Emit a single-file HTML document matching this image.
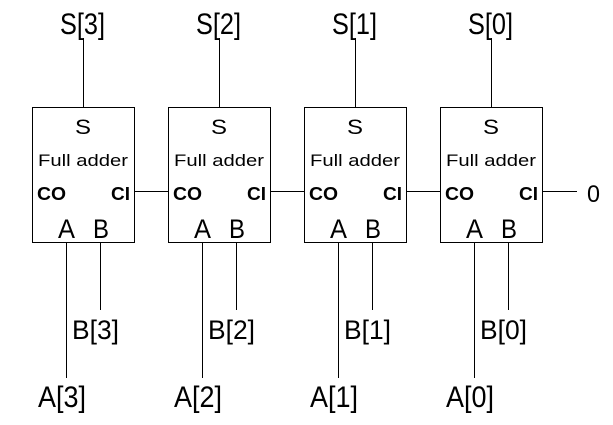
<!DOCTYPE html>
<html><head><meta charset="utf-8"><style>
html,body{margin:0;padding:0;background:#fff;}
svg{display:block;}
text{font-family:"Liberation Sans","Noto Sans CJK JP",sans-serif;fill:#000;}
</style></head><body>
<svg width="613" height="425" viewBox="0 0 613 425" xmlns="http://www.w3.org/2000/svg">
<g stroke="#000" stroke-width="1" fill="none">
<rect x="32.5" y="107.5" width="102" height="135"/>
<rect x="168.5" y="107.5" width="102" height="135"/>
<rect x="304.5" y="107.5" width="102" height="135"/>
<rect x="440.5" y="107.5" width="102" height="135"/>
<line x1="83.5" y1="38" x2="83.5" y2="107"/>
<line x1="219.5" y1="38" x2="219.5" y2="107"/>
<line x1="355.5" y1="38" x2="355.5" y2="107"/>
<line x1="491.5" y1="38" x2="491.5" y2="107"/>
<line x1="134" y1="191.5" x2="168" y2="191.5"/>
<line x1="270" y1="191.5" x2="304" y2="191.5"/>
<line x1="406" y1="191.5" x2="440" y2="191.5"/>
<line x1="542" y1="191.5" x2="577" y2="191.5"/>
<line x1="66.5" y1="242" x2="66.5" y2="378"/>
<line x1="100.5" y1="242" x2="100.5" y2="310"/>
<line x1="202.5" y1="242" x2="202.5" y2="378"/>
<line x1="236.5" y1="242" x2="236.5" y2="310"/>
<line x1="338.5" y1="242" x2="338.5" y2="378"/>
<line x1="372.5" y1="242" x2="372.5" y2="310"/>
<line x1="474.5" y1="242" x2="474.5" y2="378"/>
<line x1="508.5" y1="242" x2="508.5" y2="310"/>
</g>
<g font-size="30" lengthAdjust="spacingAndGlyphs">
<text x="60" y="34" textLength="45" lengthAdjust="spacingAndGlyphs">S[3]</text>
<text x="196" y="34" textLength="45" lengthAdjust="spacingAndGlyphs">S[2]</text>
<text x="332" y="34" textLength="45" lengthAdjust="spacingAndGlyphs">S[1]</text>
<text x="468" y="34" textLength="45" lengthAdjust="spacingAndGlyphs">S[0]</text>
</g>
<g id="labels">
<g transform="translate(0,0)">
<text x="75" y="134" font-size="21" textLength="16" lengthAdjust="spacingAndGlyphs">S</text>
<text x="38" y="166" font-size="17" textLength="90" lengthAdjust="spacingAndGlyphs">Full adder</text>
<text x="37" y="200" font-size="18" font-weight="bold" textLength="29" lengthAdjust="spacingAndGlyphs">CO</text>
<text x="111" y="200" font-size="18" font-weight="bold" textLength="19" lengthAdjust="spacingAndGlyphs">CI</text>
<text x="58" y="238" font-size="27" textLength="17" lengthAdjust="spacingAndGlyphs">A</text>
<text x="93" y="238" font-size="27" textLength="16" lengthAdjust="spacingAndGlyphs">B</text>
</g>
<g transform="translate(136,0)">
<text x="75" y="134" font-size="21" textLength="16" lengthAdjust="spacingAndGlyphs">S</text>
<text x="38" y="166" font-size="17" textLength="90" lengthAdjust="spacingAndGlyphs">Full adder</text>
<text x="37" y="200" font-size="18" font-weight="bold" textLength="29" lengthAdjust="spacingAndGlyphs">CO</text>
<text x="111" y="200" font-size="18" font-weight="bold" textLength="19" lengthAdjust="spacingAndGlyphs">CI</text>
<text x="58" y="238" font-size="27" textLength="17" lengthAdjust="spacingAndGlyphs">A</text>
<text x="93" y="238" font-size="27" textLength="16" lengthAdjust="spacingAndGlyphs">B</text>
</g>
<g transform="translate(272,0)">
<text x="75" y="134" font-size="21" textLength="16" lengthAdjust="spacingAndGlyphs">S</text>
<text x="38" y="166" font-size="17" textLength="90" lengthAdjust="spacingAndGlyphs">Full adder</text>
<text x="37" y="200" font-size="18" font-weight="bold" textLength="29" lengthAdjust="spacingAndGlyphs">CO</text>
<text x="111" y="200" font-size="18" font-weight="bold" textLength="19" lengthAdjust="spacingAndGlyphs">CI</text>
<text x="58" y="238" font-size="27" textLength="17" lengthAdjust="spacingAndGlyphs">A</text>
<text x="93" y="238" font-size="27" textLength="16" lengthAdjust="spacingAndGlyphs">B</text>
</g>
<g transform="translate(408,0)">
<text x="75" y="134" font-size="21" textLength="16" lengthAdjust="spacingAndGlyphs">S</text>
<text x="38" y="166" font-size="17" textLength="90" lengthAdjust="spacingAndGlyphs">Full adder</text>
<text x="37" y="200" font-size="18" font-weight="bold" textLength="29" lengthAdjust="spacingAndGlyphs">CO</text>
<text x="111" y="200" font-size="18" font-weight="bold" textLength="19" lengthAdjust="spacingAndGlyphs">CI</text>
<text x="58" y="238" font-size="27" textLength="17" lengthAdjust="spacingAndGlyphs">A</text>
<text x="93" y="238" font-size="27" textLength="16" lengthAdjust="spacingAndGlyphs">B</text>
</g>
</g>
<g font-size="27">
<text x="72" y="339" textLength="47" lengthAdjust="spacingAndGlyphs">B[3]</text>
<text x="208" y="339" textLength="47" lengthAdjust="spacingAndGlyphs">B[2]</text>
<text x="344" y="339" textLength="47" lengthAdjust="spacingAndGlyphs">B[1]</text>
<text x="480" y="339" textLength="47" lengthAdjust="spacingAndGlyphs">B[0]</text>
<text x="38" y="407" font-size="30" textLength="48" lengthAdjust="spacingAndGlyphs">A[3]</text>
<text x="174" y="407" font-size="30" textLength="48" lengthAdjust="spacingAndGlyphs">A[2]</text>
<text x="310" y="407" font-size="30" textLength="48" lengthAdjust="spacingAndGlyphs">A[1]</text>
<text x="446" y="407" font-size="30" textLength="48" lengthAdjust="spacingAndGlyphs">A[0]</text>
<text x="587" y="202" font-size="24" textLength="13" lengthAdjust="spacingAndGlyphs">0</text>
</g>
</svg>
</body></html>
